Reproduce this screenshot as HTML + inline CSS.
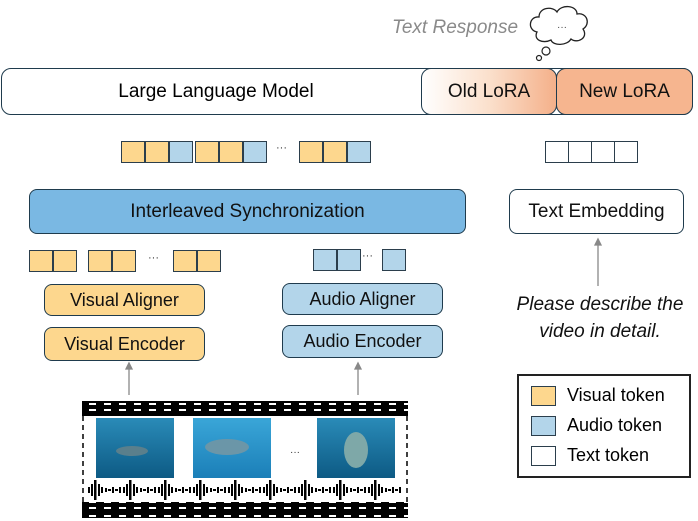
<!DOCTYPE html>
<html><head><meta charset="utf-8"><style>
body{margin:0;width:698px;height:521px;background:#fff;position:relative;overflow:hidden;font-family:"Liberation Sans",sans-serif;}
.a{position:absolute;box-sizing:border-box;}
.box{position:absolute;box-sizing:border-box;border:1.5px solid #1f3b4d;border-radius:8px;display:flex;align-items:center;justify-content:center;font-size:18px;color:#111;}
.tk{position:absolute;box-sizing:border-box;border:1.5px solid #2b3e4c;width:24px;height:22px;}
.o{background:#fdd78e}.b{background:#b3d5ea}.w{background:#fff}
.dots{position:absolute;font-size:11px;color:#333;}
</style></head><body>
<div class="a" style="left:392px;top:17px;font-size:19px;font-style:italic;color:#8a8a8a;">Text Response</div>
<svg class="a" style="left:525px;top:2px" width="70" height="75" viewBox="0 0 70 75">
<path d="M12 30 C2 28 4 14 14 15 C14 5 28 4 32 10 C36 2 52 3 52 12 C62 10 66 22 58 27 C64 36 52 42 46 37 C42 44 28 44 26 38 C18 42 8 38 12 30 Z" fill="#fff" stroke="#222" stroke-width="1.3"/>
<text x="32" y="28" font-size="10" fill="#444" font-family="Liberation Sans">···</text>
<circle cx="21" cy="49" r="4" fill="#fff" stroke="#222" stroke-width="1.2"/>
<circle cx="14" cy="56" r="2.5" fill="#fff" stroke="#222" stroke-width="1.2"/>
</svg>
<div class="box" style="left:1px;top:68px;width:692px;height:47px;border-radius:10px;"></div>
<div class="a" style="left:1px;top:68px;width:430px;height:47px;display:flex;align-items:center;justify-content:center;font-size:19px;">Large Language Model</div>
<div class="box" style="left:421px;top:68px;width:136px;height:47px;border-radius:10px;background:linear-gradient(90deg,#fff 0%,#fbe0cc 50%,#f4b08a 100%);font-size:19px;">Old LoRA</div>
<div class="box" style="left:556px;top:68px;width:137px;height:47px;border-radius:10px;background:#f6b58f;font-size:19px;">New LoRA</div>
<div class="tk o" style="left:121px;top:141px"></div><div class="tk o" style="left:145px;top:141px"></div><div class="tk b" style="left:169px;top:141px"></div>
<div class="tk o" style="left:195px;top:141px"></div><div class="tk o" style="left:219px;top:141px"></div><div class="tk b" style="left:243px;top:141px"></div>
<div class="dots" style="left:276px;top:142px">···</div>
<div class="tk o" style="left:299px;top:141px"></div><div class="tk o" style="left:323px;top:141px"></div><div class="tk b" style="left:347px;top:141px"></div>
<div class="tk w" style="left:545px;top:141px"></div><div class="tk w" style="left:568px;top:141px"></div><div class="tk w" style="left:591px;top:141px"></div><div class="tk w" style="left:614px;top:141px"></div>
<div class="box" style="left:29px;top:189px;width:437px;height:45px;background:#7ab8e3;font-size:19px;">Interleaved Synchronization</div>
<div class="box" style="left:509px;top:189px;width:175px;height:45px;background:#fff;font-size:19px;">Text Embedding</div>
<div class="tk o" style="left:29px;top:250px"></div><div class="tk o" style="left:53px;top:250px"></div>
<div class="tk o" style="left:88px;top:250px"></div><div class="tk o" style="left:112px;top:250px"></div>
<div class="dots" style="left:148px;top:252px">···</div>
<div class="tk o" style="left:173px;top:250px"></div><div class="tk o" style="left:197px;top:250px"></div>
<div class="tk b" style="left:313px;top:249px"></div><div class="tk b" style="left:337px;top:249px"></div>
<div class="dots" style="left:362px;top:250px">···</div>
<div class="tk b" style="left:382px;top:249px"></div>
<div class="box" style="left:44px;top:284px;width:161px;height:32px;background:#fdd78e;">Visual Aligner</div>
<div class="box" style="left:44px;top:327px;width:161px;height:34px;background:#fdd78e;">Visual Encoder</div>
<div class="box" style="left:282px;top:283px;width:161px;height:32px;background:#b3d5ea;">Audio Aligner</div>
<div class="box" style="left:282px;top:325px;width:161px;height:33px;background:#b3d5ea;">Audio Encoder</div>
<svg class="a" style="left:0;top:0" width="698" height="521">
<g stroke="#888" stroke-width="1.3" fill="#888">
<line x1="129" y1="395" x2="129" y2="368"/><polygon points="126,369 132,369 129,363"/>
<line x1="358" y1="395" x2="358" y2="368"/><polygon points="355,369 361,369 358,363"/>
<line x1="598" y1="286" x2="598" y2="244"/><polygon points="595,245 601,245 598,239"/>
</g>
</svg>
<div class="a" style="left:500px;top:291px;width:200px;text-align:center;font-size:19px;font-style:italic;line-height:27px;color:#111;">Please describe the<br>video in detail.</div>
<div class="a" style="left:517px;top:374px;width:174px;height:104px;border:2px solid #222;"></div>
<div class="tk o" style="left:531px;top:386px;width:25px;height:20px"></div>
<div class="tk b" style="left:531px;top:416px;width:25px;height:20px"></div>
<div class="tk w" style="left:531px;top:446px;width:25px;height:20px"></div>
<div class="a" style="left:567px;top:385px;font-size:18px;">Visual token</div>
<div class="a" style="left:567px;top:415px;font-size:18px;">Audio token</div>
<div class="a" style="left:567px;top:445px;font-size:18px;">Text token</div>
<svg class="a" style="left:82px;top:400px" width="328" height="120">
<defs>
<pattern id="perf" x="4" y="0" width="15" height="14" patternUnits="userSpaceOnUse"><rect width="15" height="14" fill="#000"/><rect x="3" y="3" width="7" height="2" fill="#fff"/><rect x="3" y="9" width="7" height="2" fill="#fff"/></pattern>
<pattern id="wave" x="6" y="80" width="35" height="20" patternUnits="userSpaceOnUse">
<g fill="#000"><rect x="0" y="7" width="2" height="6"/><rect x="3" y="4" width="2" height="12"/><rect x="6" y="0" width="2.5" height="20"/><rect x="10" y="4" width="2" height="12"/><rect x="13" y="7" width="2" height="6"/><rect x="17" y="8" width="2" height="4"/><rect x="20" y="9" width="3" height="2"/><rect x="24" y="7" width="2" height="6"/><rect x="27" y="9" width="3" height="2"/><rect x="31" y="7" width="2" height="6"/></g></pattern>
<linearGradient id="sea" x1="0" y1="0" x2="0" y2="1"><stop offset="0" stop-color="#2a8bb8"/><stop offset="1" stop-color="#0d5a84"/></linearGradient>
<linearGradient id="sea2" x1="0" y1="0" x2="0" y2="1"><stop offset="0" stop-color="#3aa6d8"/><stop offset="1" stop-color="#1b7fb8"/></linearGradient>
</defs>
<rect x="0" y="1" width="326" height="15" fill="url(#perf)"/>
<rect x="0" y="102" width="326" height="16" fill="url(#perf)"/>
<line x1="1" y1="16" x2="1" y2="102" stroke="#000" stroke-width="1.5" stroke-dasharray="5,4"/>
<line x1="325" y1="16" x2="325" y2="102" stroke="#000" stroke-width="1.5" stroke-dasharray="5,4"/>
<rect x="14" y="18" width="78" height="60" fill="url(#sea)"/>
<ellipse cx="50" cy="51" rx="16" ry="5" fill="#5a7f8c"/>
<rect x="111" y="18" width="78" height="60" fill="url(#sea2)"/>
<ellipse cx="145" cy="47" rx="22" ry="8" fill="#6b96a8"/>
<rect x="235" y="18" width="78" height="60" fill="url(#sea)"/>
<ellipse cx="274" cy="50" rx="12" ry="18" fill="#7ea8a8"/>
<text x="208" y="55" font-size="10" fill="#333" font-family="Liberation Sans">···</text>
<rect x="6" y="80" width="314" height="20" fill="url(#wave)"/>
</svg>
</body></html>
